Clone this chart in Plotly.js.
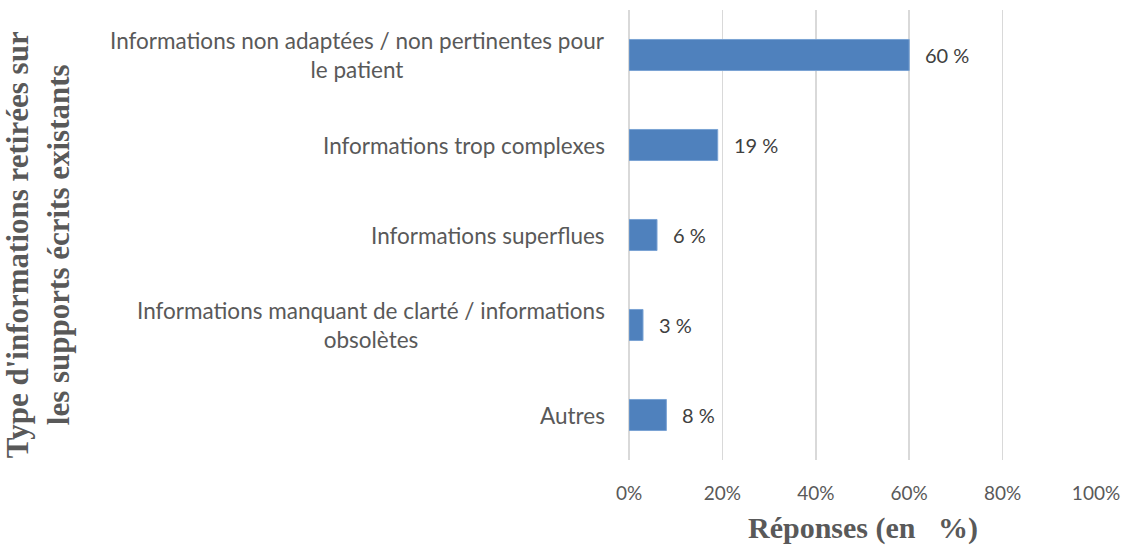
<!DOCTYPE html>
<html>
<head>
<meta charset="utf-8">
<script src="https://cdn.plot.ly/plotly-3.0.1.min.js"></script>
<style>html,body{margin:0;padding:0;background:#fff;}#chart{width:1127px;height:549px;}</style>
</head>
<body>
<div id="chart"></div>
<script>
const categories = [
  "Informations non adaptées / non pertinentes pour<br>le patient",
  "Informations trop complexes",
  "Informations superflues",
  "Informations manquant de clarté / informations<br>obsolètes",
  "Autres"
];
const values = [60, 19, 6, 3, 8];
const valueLabels = ["60 %", "19 %", "6 %", "3 %", "8 %"];
const xTickValues = [0, 20, 40, 60, 80, 100];
const xTickLabels = ["0%", "20%", "40%", "60%", "80%", "100%"];

const labelFont = {family: "Lato, 'Open Sans', sans-serif", size: 22.5, color: "#595959"};
const serif = "'Liberation Serif', 'Times New Roman', serif";

const annotations = [];
categories.forEach((c, i) => {
  annotations.push({
    xref: "paper", yref: "y", x: 0, y: c, text: c,
    xanchor: "right", yanchor: "middle", align: "center",
    xshift: -22, showarrow: false, font: labelFont
  });
  annotations.push({
    xref: "x", yref: "y", x: values[i], y: c, text: valueLabels[i],
    xanchor: "left", yanchor: "middle", xshift: 14, showarrow: false,
    font: {family: labelFont.family, size: 20, color: "#404040"}
  });
});
annotations.push({
  xref: "paper", yref: "paper", x: -1.265, y: 0.478,
  text: "<b>Type d'informations retirées sur<br>les supports écrits existants</b>",
  textangle: -90, showarrow: false, xanchor: "center", yanchor: "middle",
  align: "center", font: {family: serif, size: 31, color: "#595959"}
});
annotations.push({
  xref: "paper", yref: "paper", x: 0.5, y: 0, yshift: -68,
  text: "<b>Réponses (en \u00a0\u00a0%)</b>",
  showarrow: false, xanchor: "center", yanchor: "middle",
  font: {family: serif, size: 30, color: "#595959"}
});

const trace = {
  type: "bar", orientation: "h",
  x: values, y: categories,
  marker: {color: "#4F81BD", line: {color: "#7aa3d4", width: 1}},
  hoverinfo: "none"
};

const layout = {
  width: 1127, height: 549,
  margin: {l: 629, r: 31, t: 10, b: 89},
  paper_bgcolor: "#ffffff", plot_bgcolor: "#ffffff",
  showlegend: false,
  bargap: 0.655,
  xaxis: {
    range: [0, 100], tickvals: xTickValues, ticktext: xTickLabels,
    showgrid: true, gridcolor: "#d9d9d9", gridwidth: 1.5,
    zeroline: true, zerolinecolor: "#d9d9d9", zerolinewidth: 1.5,
    showline: false,
    ticks: "outside", ticklen: 16, tickcolor: "rgba(0,0,0,0)",
    tickfont: {family: labelFont.family, size: 19, color: "#595959"},
    fixedrange: true
  },
  yaxis: {
    autorange: "reversed", showticklabels: false, showgrid: false,
    zeroline: false, showline: false, ticks: "", fixedrange: true
  },
  annotations: annotations
};

Plotly.newPlot("chart", [trace], layout, {displayModeBar: false, staticPlot: true});
</script>
</body>
</html>
